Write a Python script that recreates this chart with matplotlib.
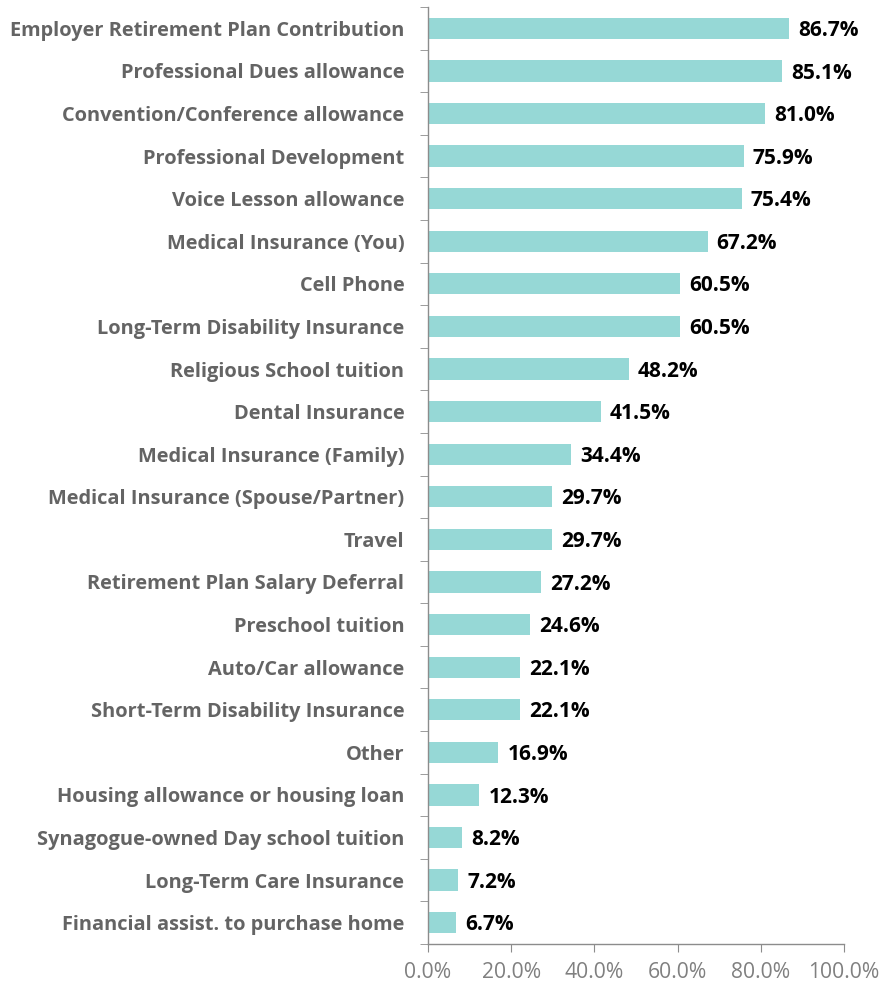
import matplotlib
matplotlib.use("Agg")
import matplotlib.pyplot as plt
import numpy as np

categories = [
    "Employer Retirement Plan Contribution",
    "Professional Dues allowance",
    "Convention/Conference allowance",
    "Professional Development",
    "Voice Lesson allowance",
    "Medical Insurance (You)",
    "Cell Phone",
    "Long-Term Disability Insurance",
    "Religious School tuition",
    "Dental Insurance",
    "Medical Insurance (Family)",
    "Medical Insurance (Spouse/Partner)",
    "Travel",
    "Retirement Plan Salary Deferral",
    "Preschool tuition",
    "Auto/Car allowance",
    "Short-Term Disability Insurance",
    "Other",
    "Housing allowance or housing loan",
    "Synagogue-owned Day school tuition",
    "Long-Term Care Insurance",
    "Financial assist. to purchase home",
]
values = [86.7, 85.1, 81.0, 75.9, 75.4, 67.2, 60.5, 60.5, 48.2, 41.5, 34.4,
          29.7, 29.7, 27.2, 24.6, 22.1, 22.1, 16.9, 12.3, 8.2, 7.2, 6.7]
xticks = [0, 20, 40, 60, 80, 100]

plt.rcParams['font.family'] = ['Open Sans', 'DejaVu Sans']

fig = plt.figure(figsize=(8.82, 9.84), dpi=100)
ax = fig.add_axes([428 / 882, 1 - 944 / 984, (844 - 428) / 882, (944 - 7) / 984])

n = len(categories)
y = np.arange(n)
ax.barh(y, values, height=0.5, color='#96D8D6', edgecolor='none')

for yi, v in zip(y, values):
    ax.text(v + 2.2, yi + 0.05, f"{v:.1f}%", va='center', ha='left',
            fontsize=15, fontweight='bold', color='black')

ax.set_xlim(0, 100)
ax.set_ylim(n - 0.5, -0.5)
ax.set_xticks(xticks)
ax.set_xticklabels([f"{t:.1f}%" for t in xticks], fontsize=15.2, color='#808080')

# category labels centred, tick marks between categories
ax.set_yticks(y)
ax.set_yticklabels(categories, fontsize=14.4, fontweight='bold', color='#646464')
ax.tick_params(axis='y', length=0, pad=17)
ax.set_yticks(np.arange(-0.5, n, 1), minor=True)
ax.tick_params(axis='y', which='minor', length=6, color='#8c8c8c', direction='out')
ax.tick_params(axis='x', length=6, color='#8c8c8c', direction='out', pad=7)

for side in ['top', 'right']:
    ax.spines[side].set_visible(False)
for side in ['left', 'bottom']:
    ax.spines[side].set_color('#8c8c8c')
    ax.spines[side].set_linewidth(1)

fig.savefig("out.png", dpi=100)
